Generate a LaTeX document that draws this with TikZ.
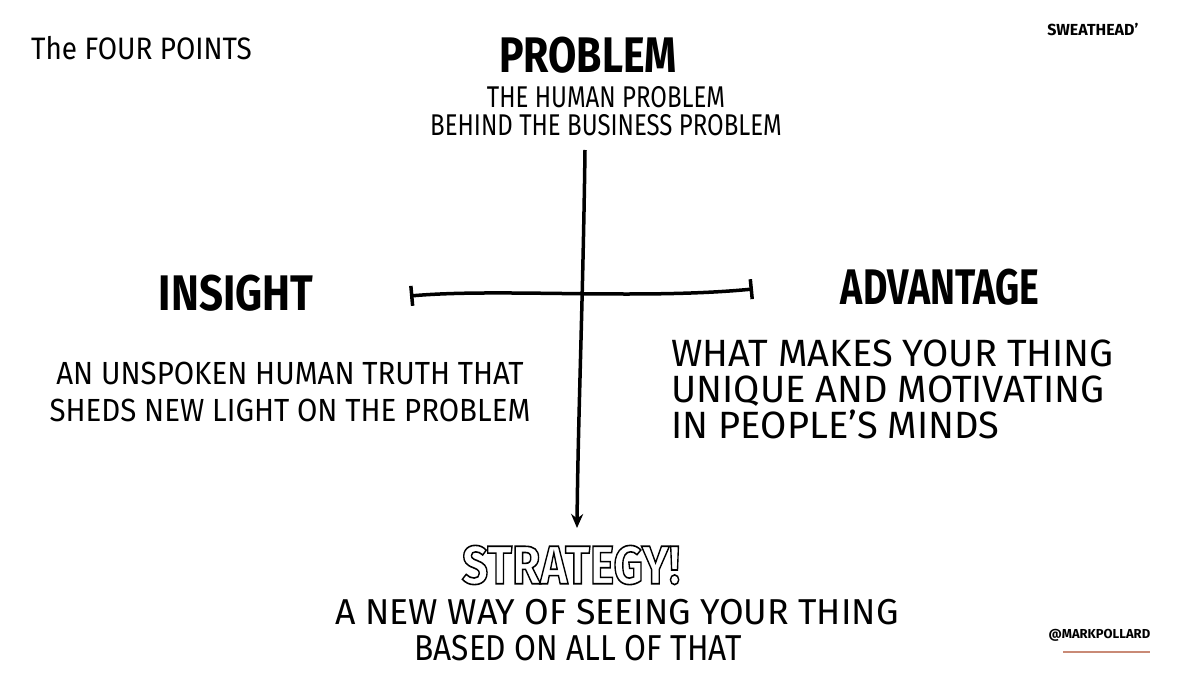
\documentclass[tikz,border=0pt]{standalone}
\usepackage{fontspec}
\setmainfont{Fira Sans}
\usetikzlibrary{arrows.meta}
\definecolor{inkline}{HTML}{C98A76}

\newcommand{\outlinetext}[1]{\special{pdf:literal direct 1 Tr 1.6 w}#1\special{pdf:literal direct 0 Tr}}

\tikzset{
  heading/.style={font=\bfseries\fontsize{50}{50}\selectfont},
  hand/.style={font=\fontsize{32}{37}\selectfont, align=center},
}

\begin{document}
\begin{tikzpicture}[x=1pt,y=-1pt]
    \useasboundingbox[fill=white] (0,0) rectangle (1200,674);

    \node[anchor=west, font=\fontsize{31}{31}\selectfont, xscale=0.9] (four) at (28,48) {The FOUR POINTS};
    \node[anchor=east, font=\bfseries\fontsize{16}{16}\selectfont] (sweat) at (1142,30) {SWEATHEAD’};

    \node[heading, xscale=0.82] (problem) at (588,55) {PROBLEM};
    \node[hand, font=\fontsize{30}{28}\selectfont, xscale=0.8] (human) at (606,111) {THE HUMAN PROBLEM\\BEHIND THE BUSINESS PROBLEM};

    \node[heading, xscale=0.84] (insight) at (236,293) {INSIGHT};
    \node[heading, xscale=0.75] (advantage) at (940,287) {ADVANTAGE};

    \node[hand, xscale=0.92] (truth) at (290,392) {AN UNSPOKEN HUMAN TRUTH THAT\\SHEDS NEW LIGHT ON THE PROBLEM};
    \node[hand, font=\fontsize{38}{36}\selectfont, anchor=west, align=left, xscale=1.0] (makes) at (668,389) {WHAT MAKES YOUR THING\\UNIQUE AND MOTIVATING\\IN PEOPLE'S MINDS};

    \node[heading, font=\bfseries\fontsize{54}{54}\selectfont, xscale=0.85] (strategy) at (571,565) {\outlinetext{STRATEGY!}};
    \node[hand, font=\fontsize{36}{36}\selectfont, xscale=0.99] (seeing) at (617,612) {A NEW WAY OF SEEING YOUR THING};
    \node[hand, font=\fontsize{36}{36}\selectfont, xscale=0.88] (based) at (578,648) {BASED ON ALL OF THAT};

    \node[anchor=west, font=\bfseries\fontsize{13}{13}\selectfont] (mark) at (1045,635) {@MARKPOLLARD};
    \draw[inkline, line width=1.2pt] (1063,652) -- (1150,652);

    \coordinate (top) at (585,150);
    \coordinate (bot) at (577,528);
    \coordinate (lt) at (410,296);
    \coordinate (rt) at (753,289);

    \draw[line width=3.5pt, -{Stealth[length=14pt, width=12pt]}] (top) .. controls (583,300) and (578,420) .. (bot);
    \draw[line width=3.5pt, {Bar[width=20pt]}-{Bar[width=20pt]}] (lt) .. controls (500,288) and (640,300) .. (rt);
\end{tikzpicture}
\end{document}
